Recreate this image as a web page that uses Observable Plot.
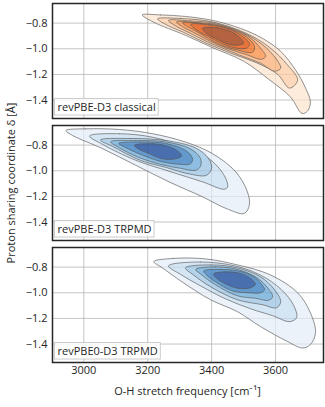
<!DOCTYPE html>
<html><head><meta charset="utf-8">
<script src="https://cdn.jsdelivr.net/npm/d3@7"></script>
<script src="https://cdn.jsdelivr.net/npm/@observablehq/plot@0.6"></script>
<style>
html,body{margin:0;padding:0;background:#fff;}
#chart{position:relative;width:325px;height:407px;}
</style></head><body><div id="chart"></div>
<script>
const panels = ["revPBE-D3 classical", "revPBE-D3 TRPMD", "revPBE0-D3 TRPMD"];
const xTicks = [3000, 3200, 3400, 3600];
const yTicks = [-0.8, -1.0, -1.2, -1.4];
const orangeColors = ["#fdebdc", "#fdd8ba", "#fcc398", "#fba870", "#f68d4e", "#e8743c", "#b4623f"];
const blueColors = ["#ebf2fa", "#d4e5f4", "#b4d3ea", "#8dbde0", "#6399cc", "#4a6fae"];

// contour outlines [frequency cm^-1, delta Å], outer level first
const classicalContours = [
  [[3183,-0.736],[3240,-0.736],[3318,-0.748],[3403,-0.779],[3490,-0.841],[3559,-0.919],[3616,-1.020],[3663,-1.167],[3694,-1.307],[3709,-1.416],[3700,-1.486],[3683,-1.505],[3647,-1.377],[3578,-1.237],[3500,-1.097],[3397,-0.985],[3318,-0.895],[3218,-0.792]],
  [[3231,-0.767],[3303,-0.764],[3403,-0.791],[3509,-0.880],[3581,-0.989],[3638,-1.128],[3669,-1.245],[3644,-1.307],[3606,-1.198],[3544,-1.113],[3469,-1.043],[3387,-0.961],[3312,-0.872],[3256,-0.810]],
  [[3265,-0.779],[3334,-0.783],[3412,-0.802],[3512,-0.892],[3572,-0.996],[3609,-1.105],[3616,-1.152],[3597,-1.175],[3553,-1.113],[3497,-1.059],[3428,-0.989],[3387,-0.946],[3334,-0.880],[3290,-0.826]],
  [[3290,-0.791],[3350,-0.795],[3428,-0.818],[3512,-0.899],[3553,-0.996],[3569,-1.059],[3556,-1.082],[3506,-1.043],[3443,-0.993],[3387,-0.930],[3340,-0.868],[3312,-0.833]],
  [[3309,-0.798],[3365,-0.802],[3443,-0.833],[3506,-0.903],[3534,-0.981],[3528,-1.027],[3484,-1.012],[3428,-0.969],[3387,-0.915],[3350,-0.861]],
  [[3334,-0.810],[3390,-0.814],[3453,-0.845],[3500,-0.911],[3519,-0.965],[3509,-0.996],[3465,-0.989],[3412,-0.934],[3387,-0.899],[3365,-0.872]],
  [[3371,-0.841],[3418,-0.837],[3465,-0.872],[3494,-0.927],[3500,-0.958],[3490,-0.969],[3459,-0.969],[3412,-0.919],[3384,-0.880]]
];
const trpmdContours = [
  [[2944,-0.686],[3006,-0.673],[3111,-0.678],[3215,-0.711],[3319,-0.777],[3403,-0.867],[3476,-1.010],[3512,-1.165],[3518,-1.268],[3502,-1.333],[3445,-1.294],[3372,-1.204],[3267,-1.087],[3163,-0.958],[3059,-0.828],[2965,-0.725]],
  [[3018,-0.729],[3111,-0.711],[3215,-0.738],[3319,-0.816],[3392,-0.906],[3439,-1.035],[3450,-1.126],[3439,-1.144],[3372,-1.087],[3267,-1.004],[3163,-0.919],[3059,-0.795]],
  [[3052,-0.760],[3146,-0.748],[3256,-0.764],[3350,-0.822],[3390,-0.903],[3400,-0.981],[3384,-1.035],[3334,-1.027],[3256,-0.973],[3177,-0.919],[3090,-0.810]],
  [[3084,-0.774],[3162,-0.764],[3256,-0.775],[3334,-0.830],[3365,-0.903],[3365,-0.965],[3350,-0.996],[3303,-0.981],[3240,-0.950],[3171,-0.895],[3109,-0.818]],
  [[3109,-0.787],[3177,-0.775],[3256,-0.787],[3318,-0.841],[3340,-0.903],[3334,-0.946],[3303,-0.950],[3240,-0.927],[3177,-0.872],[3130,-0.818]],
  [[3158,-0.802],[3215,-0.789],[3265,-0.810],[3296,-0.849],[3306,-0.884],[3287,-0.907],[3246,-0.907],[3202,-0.864],[3171,-0.830]]
];
const trpmd0Contours = [
  [[3219,-0.757],[3281,-0.732],[3381,-0.736],[3481,-0.783],[3584,-0.861],[3669,-1.000],[3709,-1.156],[3725,-1.311],[3709,-1.404],[3685,-1.431],[3638,-1.381],[3553,-1.264],[3481,-1.148],[3397,-1.055],[3312,-0.923],[3246,-0.806]],
  [[3265,-0.791],[3365,-0.760],[3481,-0.795],[3569,-0.884],[3631,-1.008],[3660,-1.117],[3666,-1.194],[3644,-1.225],[3591,-1.179],[3522,-1.125],[3443,-1.047],[3365,-0.946],[3303,-0.857]],
  [[3318,-0.806],[3397,-0.783],[3481,-0.806],[3553,-0.876],[3597,-0.977],[3616,-1.070],[3603,-1.117],[3559,-1.093],[3481,-1.055],[3397,-0.954],[3343,-0.861]],
  [[3350,-0.818],[3412,-0.798],[3481,-0.818],[3540,-0.880],[3575,-0.961],[3591,-1.031],[3578,-1.059],[3537,-1.043],[3481,-1.024],[3412,-0.938],[3365,-0.853]],
  [[3375,-0.830],[3428,-0.818],[3490,-0.833],[3537,-0.884],[3562,-0.954],[3566,-0.977],[3553,-1.000],[3515,-1.000],[3465,-0.985],[3412,-0.915],[3384,-0.861]],
  [[3406,-0.853],[3443,-0.837],[3490,-0.849],[3522,-0.888],[3537,-0.934],[3522,-0.961],[3481,-0.965],[3434,-0.919],[3412,-0.880]]
];

const sets = [
  {panel: panels[0], levels: classicalContours, colors: orangeColors},
  {panel: panels[1], levels: trpmdContours, colors: blueColors},
  {panel: panels[2], levels: trpmd0Contours, colors: blueColors}
];
const rows = [];
sets.forEach((s, i) => s.levels.forEach((lvl, j) => lvl.forEach(([f, d]) =>
  rows.push({panel: s.panel, key: i + "-" + j, f, d, fill: s.colors[j]}))));

const fmt = d => d.toFixed(1).replace("-", "\u2212");
const font = "'Open Sans', sans-serif";

const chart = Plot.plot({
  width: 325,
  height: 407,
  marginTop: 3,
  marginBottom: 44,
  marginLeft: 52,
  marginRight: 2,
  style: {fontFamily: font, fontSize: "11px", color: "#262626", background: "#fff"},
  x: {domain: [2902, 3750]},
  y: {domain: [-1.544, -0.647]},
  fy: {domain: panels, axis: null, paddingInner: 0.055, paddingOuter: 0},
  color: {type: "identity"},
  marks: [
    Plot.gridX(xTicks, {stroke: "#d4d4d4", strokeOpacity: 1, strokeWidth: 1}),
    Plot.gridY(yTicks, {stroke: "#d4d4d4", strokeOpacity: 1, strokeWidth: 1}),
    Plot.line(rows, {x: "f", y: "d", z: "key", fy: "panel", fill: "fill",
      stroke: "#555", strokeWidth: 0.8, strokeOpacity: 0.8, curve: "catmull-rom-closed"}),
    Plot.gridX(xTicks, {stroke: "#000", strokeOpacity: 0.07, strokeWidth: 1}),
    Plot.gridY(yTicks, {stroke: "#000", strokeOpacity: 0.07, strokeWidth: 1}),
    Plot.axisY(yTicks, {tickSize: 0, tickPadding: 5, tickFormat: fmt, label: null, fontSize: 11}),
    Plot.axisX(xTicks, {tickSize: 0, tickPadding: 4, tickFormat: d => String(d), label: null, fontSize: 11}),
    Plot.frame({stroke: "#262626", strokeWidth: 1.5}),
    Plot.text(panels, {fy: d => d, text: d => d, frameAnchor: "bottom-left", dx: 5, dy: -11,
      lineAnchor: "middle", textAnchor: "start", fontSize: 11, fill: "#262626", className: "panel-label"})
  ]
});
document.getElementById("chart").append(chart);

const svg = d3.select(chart);
svg.selectAll(".panel-label text").each(function() {
  const bb = this.getBBox();
  const r = d3.select(this.parentNode).insert("rect", () => this)
    .attr("x", bb.x - 3).attr("y", bb.y - 0.5)
    .attr("width", bb.width + 5.5).attr("height", bb.height + 1.5)
    .attr("fill", "#fff").attr("fill-opacity", 0.85)
    .attr("stroke", "#cccccc").attr("stroke-width", 1);
  const t = this.getAttribute("transform");
  if (t) r.attr("transform", t);
});
svg.append("text")
  .attr("transform", "translate(12,183) rotate(-90)")
  .attr("text-anchor", "middle").attr("dominant-baseline", "middle")
  .attr("fill", "#262626").attr("font-size", 11).attr("font-family", font)
  .text("Proton sharing coordinate \u03b4 [\u00c5]");
svg.append("text")
  .attr("x", 187.5).attr("y", 392)
  .attr("text-anchor", "middle").attr("dominant-baseline", "middle")
  .attr("fill", "#262626").attr("font-size", 11).attr("font-family", font)
  .text("O-H stretch frequency [cm\u207b\u00b9]");
</script>
</body></html>
